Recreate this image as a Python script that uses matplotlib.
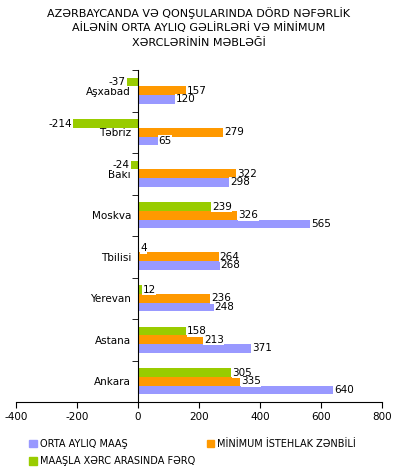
import matplotlib
matplotlib.use("Agg")
import matplotlib.pyplot as plt
from matplotlib.patches import Patch

# datos
cities = ["Aşxabad", "Təbriz", "Bakı", "Moskva", "Tbilisi", "Yerevan", "Astana", "Ankara"]
maas = [120, 65, 298, 565, 268, 248, 371, 640]
zenbil = [157, 279, 322, 326, 264, 236, 213, 335]
ferq = [-37, -214, -24, 239, 4, 12, 158, 305]

c_maas = "#9999FF"
c_zenbil = "#FF9900"
c_ferq = "#99CC00"

plt.rcParams["font.family"] = ["DejaVu Sans"]
plt.rcParams["axes.unicode_minus"] = False

fig = plt.figure(figsize=(3.97, 4.72), dpi=100)
ax = fig.add_axes([16 / 397, 1 - 402 / 472, 366 / 397, 332 / 472])

h = 0.205
y = list(range(len(cities)))
y_ferq = [v - h for v in y]
y_maas = [v + h for v in y]

ax.barh(y_ferq, ferq, height=h, color=c_ferq, zorder=2)
ax.barh(y, zenbil, height=h, color=c_zenbil, zorder=2)
ax.barh(y_maas, maas, height=h, color=c_maas, zorder=2)

# etiquetas de valores
def etiquetas(ys, vals):
    for yy, v in zip(ys, vals):
        if v < 0:
            ax.text(v - 3, yy, str(v), ha="right", va="center", fontsize=7.5,
                    bbox=dict(facecolor="white", edgecolor="none", pad=0.3), zorder=3)
        else:
            ax.text(v + 3, yy, str(v), ha="left", va="center", fontsize=7.5,
                    bbox=dict(facecolor="white", edgecolor="none", pad=0.3), zorder=3)

etiquetas(y_ferq, ferq)
etiquetas(y, zenbil)
etiquetas(y_maas, maas)

ax.set_xlim(-400, 800)
ax.set_ylim(len(cities) - 0.5, -0.5)
ax.set_xticks(range(-400, 801, 200))
ax.tick_params(axis="x", labelsize=7.5, length=4, direction="out", pad=3)

ax.spines["top"].set_visible(False)
ax.spines["right"].set_visible(False)
ax.spines["left"].set_position(("data", 0))
ax.spines["left"].set_zorder(4)

ax.set_yticks(y)
ax.set_yticklabels(cities, fontsize=7.5)
ax.tick_params(axis="y", which="major", length=0, pad=5)
ax.set_yticks([v + 0.5 for v in range(-1, len(cities))], minor=True)
ax.tick_params(axis="y", which="minor", length=4, direction="out")

fig.text(0.5, 1 - 13 / 472, "AZƏRBAYCANDA VƏ QONŞULARINDA DÖRD NƏFƏRLİK",
         ha="center", va="center", fontsize=8)
fig.text(0.5, 1 - 28 / 472, "AİLƏNİN ORTA AYLIQ GƏLİRLƏRİ VƏ MİNİMUM",
         ha="center", va="center", fontsize=8)
fig.text(0.5, 1 - 42.5 / 472, "XƏRCLƏRİNİN MƏBLƏĞİ",
         ha="center", va="center", fontsize=8)

handles = [Patch(color=c_maas, label="ORTA AYLIQ MAAŞ"),
           Patch(color=c_ferq, label="MAAŞLA XƏRC ARASINDA FƏRQ"),
           Patch(color=c_zenbil, label="MİNİMUM İSTEHLAK ZƏNBİLİ")]
fig.legend(handles=handles, ncol=2, loc="upper left",
           bbox_to_anchor=(29 / 397, 1 - 439 / 472), frameon=False,
           fontsize=7, handlelength=0.8, handleheight=0.8, handletextpad=0.3,
           columnspacing=1.2, labelspacing=0.75, borderpad=0, borderaxespad=0)

fig.savefig("out.png", dpi=100)
